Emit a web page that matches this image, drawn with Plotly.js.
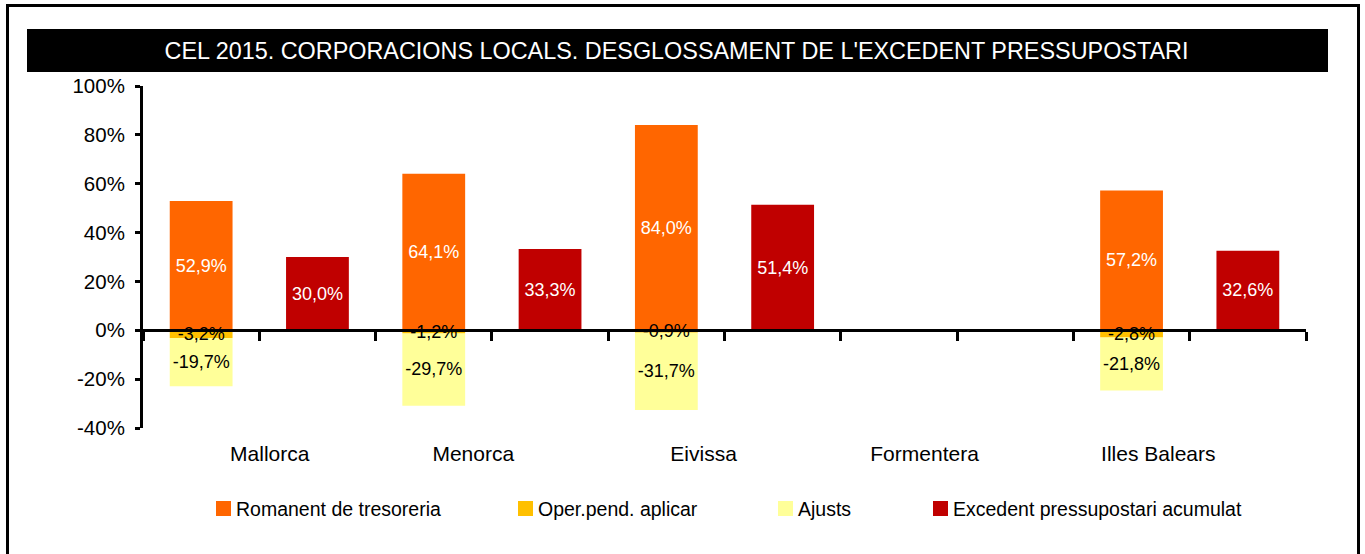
<!DOCTYPE html>
<html>
<head>
<meta charset="utf-8">
<script src="https://cdn.plot.ly/plotly-3.0.1.min.js"></script>
<style>
html, body { margin: 0; padding: 0; background: #ffffff; }
#chart { width: 1365px; height: 554px; }
</style>
</head>
<body>
<div id="chart"></div>
<script>
// ---- data ----
const categories = ['Mallorca', 'Menorca', 'Eivissa', 'Formentera', 'Illes Balears'];
const romanent = [52.9, 64.1, 84.0, null, 57.2];
const operPend = [-3.2, -1.2, -0.9, null, -2.8];
const ajusts = [-19.7, -29.7, -31.7, null, -21.8];
const excedent = [30.0, 33.3, 51.4, null, 32.6];
const seriesNames = ['Romanent de tresoreria', 'Oper.pend. aplicar', 'Ajusts', 'Excedent pressupostari acumulat'];
const yTickVals = [-40, -20, 0, 20, 40, 60, 80, 100];
const yTickText = ['-40%', '-20%', '0%', '20%', '40%', '60%', '80%', '100%'];
const chartTitle = "CEL 2015. CORPORACIONS LOCALS. DESGLOSSAMENT DE L'EXCEDENT PRESSUPOSTARI";

// ---- styling / layout constants ----
const colors = ['#FF6600', '#FFC000', '#FFFF99', '#C00000'];
const textColors = ['#FFFFFF', '#000000', '#000000', '#FFFFFF'];
const W = 1365, H = 554;
const M = { l: 143, r: 59, t: 86, b: 126 };
const PW = W - M.l - M.r, PH = H - M.t - M.b;
const px2x = p => (p - M.l) / PW;
const py2y = p => (H - M.b - p) / PH;
const labelFont = 'Liberation Sans, Arial, sans-serif';
const categoryLabelX = [1.59, 3.34, 5.32, 7.22, 9.23];
const legendSquareLeft = [216, 518, 778, 933];
const legendCenterY = 508.5;

const fmt = v => (v === null || v === undefined) ? '' : v.toFixed(1).replace('.', ',') + '%';
const stackX = categories.map((c, i) => 2 * i + 1);
const excX = categories.map((c, i) => 2 * i + 2);
const boundaries = [];
for (let k = 0; k <= categories.length * 2; k++) boundaries.push(k + 0.5);

function barTrace(idx, x, y, base) {
  return {
    type: 'bar',
    name: seriesNames[idx],
    x: x,
    y: y,
    base: base,
    width: 0.54,
    marker: { color: colors[idx], line: { width: 0 } },
    text: y.map(fmt),
    textposition: 'inside',
    insidetextanchor: 'middle',
    constraintext: 'none',
    textangle: 0,
    textfont: { family: labelFont, size: 18, color: textColors[idx] },
    hoverinfo: 'skip',
    showlegend: false
  };
}

const traces = [
  barTrace(2, stackX, ajusts, operPend.map(v => v === null ? null : v)),
  barTrace(0, stackX, romanent, categories.map(() => 0)),
  barTrace(1, stackX, operPend, categories.map(() => 0)),
  barTrace(3, excX, excedent, categories.map(() => 0))
];

const shapes = [
  { type: 'rect', xref: 'paper', yref: 'paper', layer: 'below',
    x0: px2x(27), x1: px2x(1328), y0: py2y(72), y1: py2y(29),
    fillcolor: '#000000', line: { width: 0 } },
  { type: 'rect', xref: 'paper', yref: 'paper', layer: 'below',
    x0: px2x(7.5), x1: px2x(1358.5), y0: py2y(562), y1: py2y(5.5),
    fillcolor: 'rgba(0,0,0,0)', line: { width: 3, color: '#000000' } }
];
const annotations = [];
seriesNames.forEach((name, i) => {
  const left = legendSquareLeft[i];
  shapes.push({ type: 'rect', xref: 'paper', yref: 'paper',
    x0: px2x(left), x1: px2x(left + 15), y0: py2y(legendCenterY + 7.5), y1: py2y(legendCenterY - 7.5),
    fillcolor: colors[i], line: { width: 0 } });
  annotations.push({ xref: 'paper', yref: 'paper', x: px2x(left + 18), y: py2y(legendCenterY),
    xanchor: 'left', yanchor: 'middle', showarrow: false, text: name,
    font: { family: labelFont, size: 19.5, color: '#000000' } });
});

const layout = {
  width: W, height: H,
  margin: M,
  paper_bgcolor: '#ffffff',
  plot_bgcolor: 'rgba(0,0,0,0)',
  barmode: 'overlay',
  showlegend: false,
  title: {
    text: chartTitle,
    font: { family: labelFont, size: 23.4, color: '#ffffff' },
    xref: 'container', x: 676.5 / W, xanchor: 'center',
    yref: 'container', y: 1 - 50.5 / H, yanchor: 'middle'
  },
  xaxis: {
    range: [0.5, categories.length * 2 + 0.5],
    anchor: 'free', position: 40 / 140,
    showline: true, linewidth: 3, linecolor: '#000000',
    showgrid: false, zeroline: false,
    tickmode: 'array', tickvals: categoryLabelX, ticktext: categories,
    ticks: '', ticklabelstandoff: 104,
    tickfont: { family: labelFont, size: 21, color: '#000000' },
    minor: { tickmode: 'array', tickvals: boundaries, ticks: 'outside', ticklen: 9, tickwidth: 3, tickcolor: '#000000', showgrid: false },
    fixedrange: true
  },
  yaxis: {
    range: [-40, 100],
    showline: true, linewidth: 3, linecolor: '#000000',
    showgrid: false, zeroline: false,
    tickmode: 'array', tickvals: yTickVals, ticktext: yTickText,
    ticks: 'outside', ticklen: 5, tickwidth: 3, tickcolor: '#000000',
    ticklabelstandoff: 6,
    tickfont: { family: labelFont, size: 20.5, color: '#000000' },
    fixedrange: true
  },
  shapes: shapes,
  annotations: annotations
};

Plotly.newPlot('chart', traces, layout, { displayModeBar: false, staticPlot: true });
</script>
</body>
</html>
